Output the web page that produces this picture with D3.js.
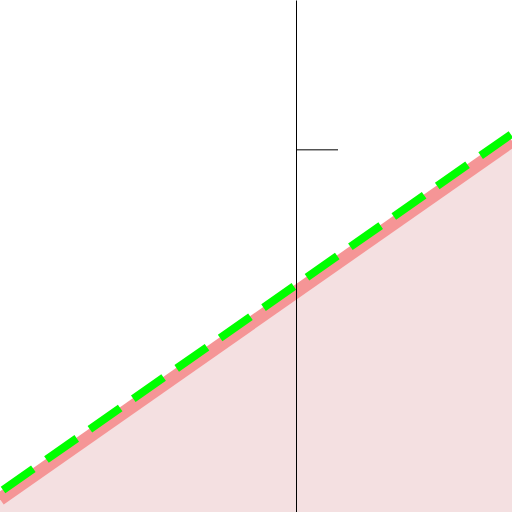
<!DOCTYPE html>
<html>
<head>
<meta charset="utf-8">
<script src="https://cdn.jsdelivr.net/npm/d3@7"></script>
<style>
  html, body { margin: 0; padding: 0; background: #fff; }
  svg { display: block; }
</style>
</head>
<body>
<div id="chart"></div>
<script>
// Data
const xValues = [-1.46, 1.06];
const fillValues = [-1.46, 1.06];   // y = x
const dashValues = [-1.41, 1.11];   // y = x + 0.05
const yTicks = [1];

const width = 512;
const height = 512;

const x = d3.scaleLinear().domain([-1.46, 1.06]).range([0, width]);
const y = d3.scaleLinear().domain([-1.55, 2.05]).range([height, 0]);

const svg = d3.select("#chart").append("svg")
    .attr("width", width)
    .attr("height", height);

const solid = xValues.map((d, i) => ({ x: d, y: fillValues[i] }));
const dashed = xValues.map((d, i) => ({ x: d, y: dashValues[i] }));

// shaded area under the line
svg.append("path")
    .datum(solid)
    .attr("fill", "#f4e0e1")
    .attr("d", d3.area().x(d => x(d.x)).y0(height).y1(d => y(d.y)));

// thick pink line
svg.append("path")
    .datum(solid)
    .attr("fill", "none")
    .attr("stroke", "#f59596")
    .attr("stroke-width", 13)
    .attr("d", d3.line().x(d => x(d.x)).y(d => y(d.y)));

// green dashed line
svg.append("path")
    .datum(dashed)
    .attr("fill", "none")
    .attr("stroke", "#00ff00")
    .attr("stroke-width", 8)
    .attr("stroke-dasharray", "37,16")
    .attr("stroke-dashoffset", 49.3)
    .attr("d", d3.line().x(d => x(d.x)).y(d => y(d.y)));

// axis through x = 0 with inward tick
svg.append("g")
    .attr("transform", `translate(${Math.floor(x(0))},0)`)
    .call(d3.axisLeft(y).tickValues(yTicks).tickSize(-42).tickSizeOuter(0).tickFormat(""))
    .call(g => g.selectAll("path, line").attr("stroke", "#000"));
</script>
</body>
</html>
